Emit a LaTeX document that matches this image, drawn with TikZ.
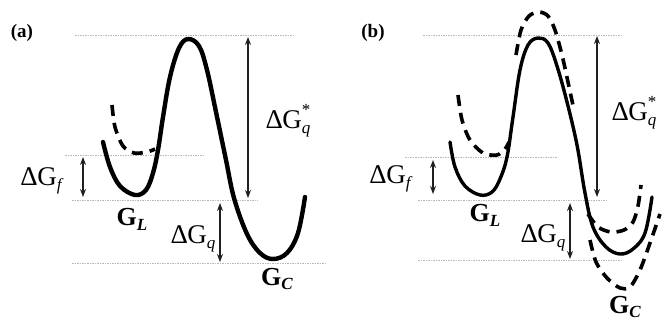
\documentclass[tikz,border=0pt]{standalone}
\usepackage{fontspec}
\setmainfont{Liberation Serif}
\usetikzlibrary{arrows.meta}
\newcommand\subl[1]{\raisebox{-0.42ex}{\fontsize{17}{17}\selectfont\itshape #1}}
\newcommand\dGsub[1]{Δ\kern-0.02em G\subl{#1}}
\newcommand\dGstar[1]{Δ\kern-0.02em G\rlap{\raisebox{1.0ex}{\fontsize{17}{17}\selectfont *}}\subl{#1}}
\newcommand\gsub[1]{G\raisebox{-0.4ex}{\fontsize{17}{17}\selectfont\bfseries\itshape #1}}
\begin{document}
\begin{tikzpicture}[x=1pt,y=-1pt,
  lvl/.style={gray!55, line width=0.7pt, dash pattern=on 1.5pt off 1pt},
  curve/.style={line width=4.4pt, line cap=round, line join=round},
  curveb/.style={line width=3.4pt, line cap=round, line join=round},
  dcurve/.style={line width=3.6pt, dash pattern=on 11pt off 7pt},
  dim/.style={gray!25!black, line width=1.3pt, {Stealth[length=8pt,width=6pt]}-{Stealth[length=8pt,width=6pt]}},
  lab/.style={font=\fontsize{27}{29}\selectfont, inner sep=0pt},
  glab/.style={font=\fontsize{26}{28}\selectfont\bfseries, inner sep=0pt},
  panel/.style={font=\fontsize{19}{20}\selectfont\bfseries, inner sep=0pt}]
\useasboundingbox (0,0) rectangle (662,325);
\fill[white] (0,0) rectangle (662,325);

% ---------------- panel (a) ----------------
\node[panel] (pa) at (22,33) {(a)};
\draw[lvl] (75,35) -- (295,35);
\draw[lvl] (65,155) -- (205,155);
\draw[lvl] (72,200) -- (258,200);
\draw[lvl] (72,263) -- (325,263);

\draw[curve] plot[smooth, tension=0.6] coordinates {
 (103,142) (110,167) (120,186) (135,195) (146,190) (153,173) (158,150)
 (163,117) (170,77) (179,48) (188,39) (199,46) (207,70) (216,112)
 (226,160) (234,198) (247,234) (260,253) (273,259) (287,253) (298,233) (305,197)};
\draw[dcurve] plot[smooth] coordinates {(112,105) (115,127) (123,146) (134,153) (147,152) (155,149)};

\coordinate (af1) at (83,157); \coordinate (af2) at (83,197);
\draw[dim] (af1) -- (af2);
\coordinate (aq1) at (248,37); \coordinate (aq2) at (248,198);
\draw[dim] (aq1) -- (aq2);
\coordinate (ag1) at (220,203); \coordinate (ag2) at (220,262);
\draw[dim] (ag1) -- (ag2);

\node[lab] (afl) at (41,181) {\dGsub{f}};
\node[lab] (aql) at (288,121) {\dGstar{q}};
\node[lab] (agl) at (193,239) {\dGsub{q}};
\node[glab] (agL) at (132,219) {\gsub{L}};
\node[glab] (agC) at (277,279) {\gsub{C}};

% ---------------- panel (b) ----------------
\node[panel] (pb) at (373,33) {(b)};
\draw[lvl] (423,35) -- (623,35);
\draw[lvl] (405,157) -- (557,157);
\draw[lvl] (418,200) -- (607,200);
\draw[lvl] (418,260) -- (622,260);

\draw[curveb] plot[smooth, tension=0.6] coordinates {
 (450,142) (455,167) (465,186) (480,195) (492,192) (500,179) (507,157)
 (513,117) (520,70) (528,45) (538,38) (548,43) (557,66) (567,102)
 (577,145) (585,193) (593,227) (606,247) (620,254) (633,249) (645,233) (652,197)};
% dashed left well
\draw[dcurve] plot[smooth] coordinates {(458,95) (462,120) (470,140) (483,153) (497,155) (505,149) (509,142)};
% dashed higher peak
\draw[dcurve] plot[smooth] coordinates {(516,55) (521,30) (529,16) (539,12) (548,16) (555,30) (562,55) (568,82) (574,110)};
% dashed upper right well
\draw[dcurve] plot[smooth] coordinates {(588,214) (598,227) (611,232) (624,230) (633,222) (638,206) (641,185)};
% dashed lower right well
\draw[dcurve] plot[smooth] coordinates {(590,240) (596,262) (607,278) (620,288) (630,287) (640,270) (650,243) (660,214)};

\coordinate (bf1) at (433,160); \coordinate (bf2) at (433,194);
\draw[dim] (bf1) -- (bf2);
\coordinate (bq1) at (597,36); \coordinate (bq2) at (597,197);
\draw[dim] (bq1) -- (bq2);
\coordinate (bg1) at (570,203); \coordinate (bg2) at (570,259);
\draw[dim] (bg1) -- (bg2);

\node[lab] (bfl) at (390,179) {\dGsub{f}};
\node[lab] (bql) at (634,113) {\dGstar{q}};
\node[lab] (bgl) at (543,238) {\dGsub{q}};
\node[glab] (bgL) at (485,215) {\gsub{L}};
\node[glab] (bgC) at (625,307) {\gsub{C}};
\end{tikzpicture}
\end{document}
